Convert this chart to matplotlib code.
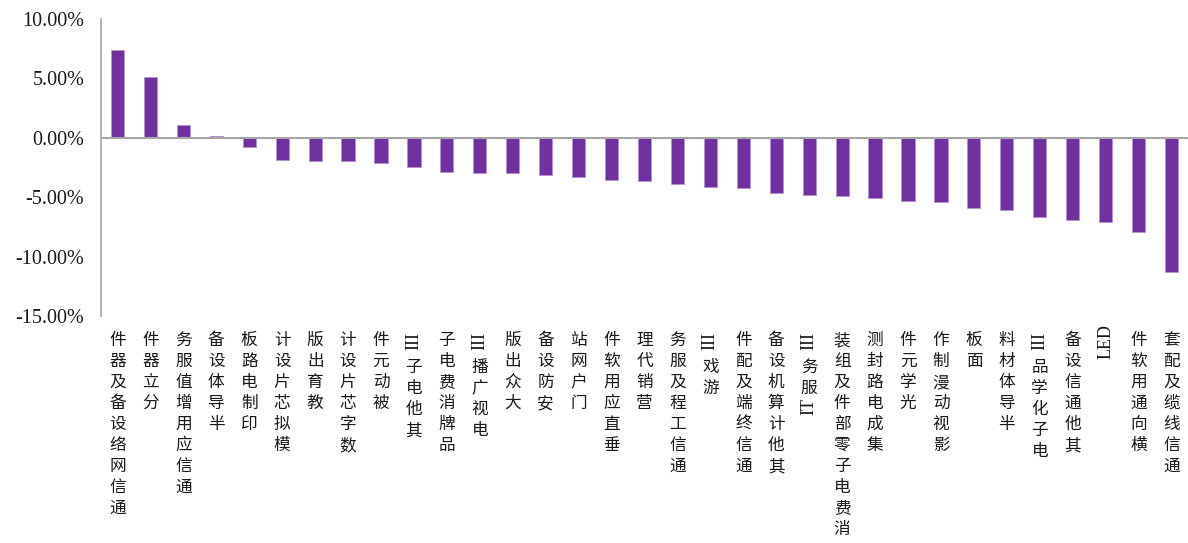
import re
import matplotlib
matplotlib.use('Agg')
import matplotlib.pyplot as plt
from matplotlib.ticker import FuncFormatter

categories = ['通信网络设备及器件', '分立器件', '通信应用增值服务', '半导体设备', '印制电路板',
              '模拟芯片设计', '教育出版', '数字芯片设计', '被动元件', '其他电子III',
              '品牌消费电子', '电视广播III', '大众出版', '安防设备', '门户网站',
              '垂直应用软件', '营销代理', '通信工程及服务', '游戏III', '通信终端及配件',
              '其他计算机设备', 'IT服务III', '消费电子零部件及组装', '集成电路封测', '光学元件',
              '影视动漫制作', '面板', '半导体材料', '电子化学品III', '其他通信设备',
              'LED', '横向通用软件', '通信线缆及配套']
returns = [7.36, 5.13, 1.04, 0.14, -0.76, -1.85, -1.94, -1.99, -2.10, -2.47,
           -2.92, -2.94, -3.00, -3.17, -3.28, -3.53, -3.65, -3.93, -4.12, -4.24,
           -4.68, -4.80, -4.88, -5.08, -5.33, -5.44, -5.95, -6.06, -6.70, -6.96,
           -7.07, -7.97, -11.30]
yticks = [10, 5, 0, -5, -10, -15]

PX = 0.72  # points per pixel at dpi 100
cjk = ['Noto Sans CJK SC', 'DejaVu Sans']
serif = ['Liberation Serif', 'DejaVu Serif']

fig = plt.figure(figsize=(11.88, 5.43), dpi=100)
ax = fig.add_axes([101 / 1188, 1 - 316 / 543, 1 - 101 / 1188, (316 - 19) / 543])

x = list(range(len(categories)))
ax.bar(x, returns, width=0.4, color='#7030A0', edgecolor='#b493d0', linewidth=0.6, zorder=2)
ax.axhline(0, color='#a6a6a6', linewidth=1.5, zorder=3)

ax.set_xlim(-0.5, len(categories) - 0.5)
ax.set_ylim(-15, 10)
ax.set_yticks(yticks)
ax.yaxis.set_major_formatter(FuncFormatter(lambda v, p: f'{v:.2f}%'))
for lab in ax.get_yticklabels():
    lab.set_fontfamily(serif)
    lab.set_fontsize(14.5)
ax.tick_params(axis='y', length=0, pad=12, labelcolor='#1a1a1a')
ax.set_xticks([])
for s in ['top', 'right', 'bottom']:
    ax.spines[s].set_visible(False)
ax.spines['left'].set_color('#a6a6a6')
ax.spines['left'].set_linewidth(1.2)

# vertical labels: upright CJK stacked, latin runs rotated, string ends at the top
pitch = 21
for i, name in enumerate(categories):
    parts = re.findall(r'[A-Za-z]+|.', name)
    y = 14
    for part in reversed(parts):
        if part.isascii():
            h = 8 * len(part) + 3
            ax.annotate(part, xy=(i, 0), xycoords=('data', 'axes fraction'),
                        xytext=(0, -(y - 2 + h / 2) * PX), textcoords='offset points',
                        ha='center', va='center', rotation=90, fontsize=13,
                        family=serif, color='#1a1a1a')
            y += h
        else:
            ax.annotate(part, xy=(i, 0), xycoords=('data', 'axes fraction'),
                        xytext=(0, -(y + pitch / 2) * PX), textcoords='offset points',
                        ha='center', va='center', fontsize=12,
                        family=cjk, color='#1a1a1a')
            y += pitch

fig.savefig('out.png', dpi=100)
